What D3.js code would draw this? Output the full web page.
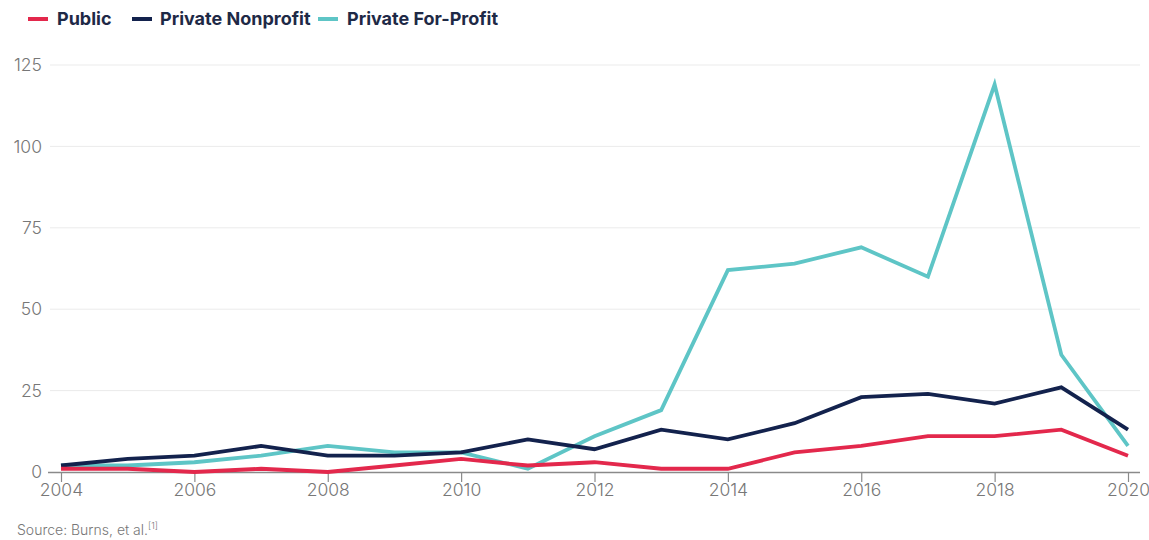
<!DOCTYPE html>
<html>
<head>
<meta charset="utf-8">
<script src="https://cdn.jsdelivr.net/npm/d3@7"></script>
<style>
  html, body { margin: 0; padding: 0; background: #ffffff; }
  svg { display: block; }
  .tick text { font-family: Inter, "Open Sans", sans-serif; }
</style>
</head>
<body>
<svg id="chart" width="1149" height="540"></svg>
<script>
// Institutions by sector, per year
const years = [2004, 2005, 2006, 2007, 2008, 2009, 2010, 2011, 2012, 2013, 2014, 2015, 2016, 2017, 2018, 2019, 2020];
const publicValues    = [1, 1, 0, 1, 0, 2, 4, 2, 3, 1, 1, 6, 8, 11, 11, 13, 5];
const nonprofitValues = [2, 4, 5, 8, 5, 5, 6, 10, 7, 13, 10, 15, 23, 24, 21, 26, 13];
const forProfitValues = [2, 2, 3, 5, 8, 6, 6, 1, 11, 19, 62, 64, 69, 60, 119, 36, 8];
const seriesNames  = ["Public", "Private Nonprofit", "Private For-Profit"];
const seriesColors = ["#e3284c", "#13224d", "#5ec5c6"];
const yTicks = [0, 25, 50, 75, 100, 125];
const xTicks = [2004, 2006, 2008, 2010, 2012, 2014, 2016, 2018, 2020];
const sourceText = "Source: Burns, et al.";

const svg = d3.select("#chart");

const x = d3.scaleLinear().domain([2004, 2020]).range([61, 1128]);
const y = d3.scaleLinear().domain([0, 125]).range([472, 65]);

const gridLeft = 50, gridRight = 1140;

// horizontal gridlines
svg.append("g")
  .selectAll("line")
  .data(yTicks.filter(d => d > 0))
  .join("line")
  .attr("x1", gridLeft).attr("x2", gridRight)
  .attr("y1", d => y(d)).attr("y2", d => y(d))
  .attr("stroke", "#ebebeb").attr("stroke-width", 1);

// y axis labels
const yAxis = svg.append("g")
  .attr("transform", `translate(${gridLeft - 8},0)`)
  .call(d3.axisLeft(y).tickValues(yTicks).tickSize(0).tickPadding(0));
yAxis.select(".domain").remove();
yAxis.selectAll("text")
  .attr("fill", "#777777")
  .attr("font-size", 17.5)
  .attr("font-weight", 300);

// x axis
const xAxis = svg.append("g")
  .attr("transform", `translate(0,${y(0)})`)
  .call(d3.axisBottom(x).tickValues(xTicks).tickFormat(d3.format("d")).tickSize(10).tickSizeOuter(0).tickPadding(2));
xAxis.select(".domain")
  .attr("d", `M${gridLeft - 2},0.5H${gridRight}`)
  .attr("stroke", "#8a8a8a").attr("stroke-width", 1.5);
xAxis.selectAll(".tick line").attr("stroke", "#8a8a8a").attr("stroke-width", 1.2);
xAxis.selectAll("text")
  .attr("fill", "#777777")
  .attr("font-size", 17.5)
  .attr("font-weight", 300);

// series lines
const seriesValues = [publicValues, nonprofitValues, forProfitValues];
const line = d3.line()
  .x((d, i) => x(years[i]))
  .y(d => y(d));

// draw order: teal under navy under red at crossings
const drawOrder = [2, 1, 0];
svg.append("g")
  .selectAll("path")
  .data(drawOrder)
  .join("path")
  .attr("d", k => line(seriesValues[k]))
  .attr("fill", "none")
  .attr("stroke", k => seriesColors[k])
  .attr("stroke-width", 3.8)
  .attr("stroke-linejoin", "miter")
  .attr("stroke-linecap", "butt");

// legend
const legendItems = [
  { swatch: 28, text: 57 },
  { swatch: 132, text: 160 },
  { swatch: 318, text: 347 }
];
const legend = svg.append("g");
legendItems.forEach((p, i) => {
  legend.append("line")
    .attr("x1", p.swatch).attr("x2", p.swatch + 20)
    .attr("y1", 19).attr("y2", 19)
    .attr("stroke", seriesColors[i]).attr("stroke-width", 4);
  legend.append("text")
    .attr("x", p.text).attr("y", 25)
    .attr("font-family", "Inter, 'Open Sans', sans-serif")
    .attr("font-size", 18)
    .attr("font-weight", 700)
    .attr("fill", "#1e2946")
    .text(seriesNames[i]);
});

// source note
const src = svg.append("text")
  .attr("x", 17).attr("y", 535)
  .attr("font-family", "Inter, 'Open Sans', sans-serif")
  .attr("font-size", 14)
  .attr("font-weight", 300)
  .attr("fill", "#777777")
  .text(sourceText);
src.append("tspan")
  .attr("dy", -6)
  .attr("font-size", 9)
  .text("[1]");
</script>
</body>
</html>
